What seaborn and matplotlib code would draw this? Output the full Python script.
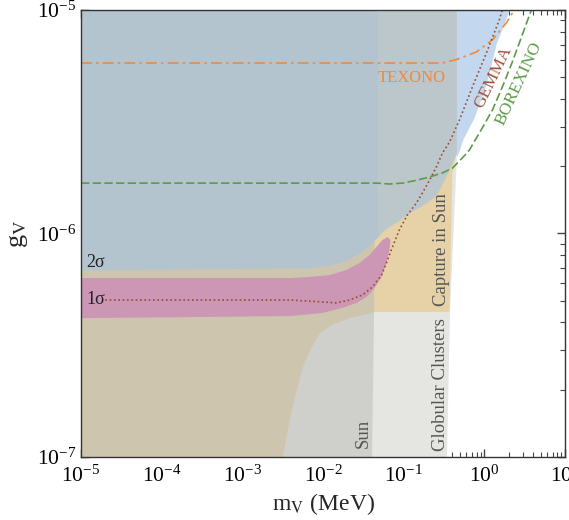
import numpy as np
import matplotlib
matplotlib.use('Agg')
import matplotlib.pyplot as plt
import pandas as pd
import seaborn as sns

# Boundaries (m in MeV, g dimensionless)

# Sun cooling bound: right edge
sun_g = [1e-7, 4.46e-7, 1e-5]
sun_m = [3.99e-2, 4.23e-2, 4.74e-2]

# Globular clusters: right edge
gc_g = [1e-7, 4.46e-7, 2.2e-6, 1e-5]
gc_m = [0.339, 0.369, 0.45, 0.463]

# tan region (outline, right edge follows the Sun curve)
tan_m = [1e-5, 3.16e-3, 3.87e-3, 4.71e-3, 5.75e-3, 7.23e-3, 9.08e-3, 1.28e-2,
         2.13e-2, 4.11e-2, 4.35e-2, 4.35e-2, 1e-5]
tan_g = [1e-7, 1e-7, 1.47e-7, 2.0e-7, 2.58e-7, 3.10e-7, 3.55e-7, 3.90e-7,
         4.18e-7, 4.41e-7, 4.46e-7, 1.0e-6, 1.0e-6]

# Capture in Sun (outline)
cap_m = [4.35e-2, 0.369, 0.402, 0.45, 0.463, 0.2, 4.35e-2]
cap_g = [4.46e-7, 4.46e-7, 1.87e-6, 2.29e-6, 2.6e-6, 2.6e-6, 1.0e-6]

# excluded region on top (lower boundary)
top_m = [1e-5, 3.87e-3, 6.83e-3, 1.21e-2, 1.96e-2, 2.84e-2, 3.78e-2, 4.74e-2,
         5.78e-2, 8.15e-2, 0.118, 0.157, 0.197, 0.255, 0.302, 0.348, 0.402,
         0.450, 0.463]
top_g = [6.87e-7, 7.01e-7, 7.01e-7, 7.23e-7, 7.61e-7, 8.18e-7, 8.89e-7, 9.64e-7,
         1.04e-6, 1.126e-6, 1.236e-6, 1.315e-6, 1.384e-6, 1.487e-6, 1.68e-6,
         1.866e-6, 2.09e-6, 2.29e-6, 2.36e-6]
split = 7  # Sun edge: region to the right is drawn lighter

# GEMMA excluded region (right edge)
gem_reg_g = [2.2e-6, 2.36e-6, 2.62e-6, 3.32e-6, 4.71e-6, 7.12e-6, 1e-5]
gem_reg_m = [0.45, 0.491, 0.535, 0.752, 1.06, 1.41, 2.04]

# 1 sigma band (outline)
s1_m = [1e-5, 3.87e-3, 6.83e-3, 1.21e-2, 1.96e-2, 2.84e-2, 3.78e-2, 4.61e-2,
        5.47e-2, 6.31e-2, 6.87e-2, 6.67e-2, 6.12e-2, 5.31e-2, 4.35e-2, 3.47e-2,
        2.61e-2, 1.75e-2, 9.89e-3, 5.59e-3, 3.87e-3, 1e-5]
s1_g = [6.32e-7, 6.32e-7, 6.39e-7, 6.52e-7, 6.87e-7, 7.38e-7, 8.02e-7, 8.71e-7,
        9.35e-7, 9.64e-7, 9.35e-7, 8.44e-7, 7.38e-7, 6.38e-7, 5.70e-7, 5.20e-7,
        4.89e-7, 4.65e-7, 4.41e-7, 4.32e-7, 4.27e-7, 4.18e-7]

# limit curves
texono_m = [1e-5, 0.302, 0.45, 0.796, 1.26, 1.87, 2.35]
texono_g = [5.79e-6, 5.79e-6, 6.0e-6, 6.49e-6, 7.35e-6, 8.75e-6, 1e-5]

borexino_m = [1e-5, 4.61e-2, 6.67e-2, 9.66e-2, 0.144, 0.209, 0.302, 0.402,
              0.535, 0.652, 0.710, 0.944, 1.26, 1.67, 2.22, 2.95, 3.82]
borexino_g = [1.68e-6, 1.68e-6, 1.665e-6, 1.68e-6, 1.73e-6, 1.79e-6, 1.866e-6,
              1.96e-6, 2.18e-6, 2.36e-6, 2.49e-6, 2.97e-6, 3.57e-6, 4.52e-6,
              5.85e-6, 7.73e-6, 1e-5]

gemma_m = [2e-5, 3.87e-3, 9.89e-3, 1.47e-2, 2.13e-2, 3.09e-2, 4.11e-2, 5.31e-2,
           6.31e-2, 7.26e-2, 8.87e-2, 0.111, 0.144, 0.171, 0.209, 0.255, 0.302,
           0.369, 0.491, 0.710, 1.06, 1.53, 1.67]
gemma_g = [5.04e-7, 5.04e-7, 4.94e-7, 4.89e-7, 5.04e-7, 5.31e-7, 5.77e-7, 6.52e-7,
           7.61e-7, 8.71e-7, 1.04e-6, 1.21e-6, 1.37e-6, 1.52e-6, 1.73e-6, 1.99e-6,
           2.29e-6, 2.56e-6, 3.22e-6, 4.52e-6, 6.42e-6, 9.02e-6, 1e-5]

sns.set_theme(style='ticks')
plt.rcParams['font.family'] = ['Liberation Serif', 'DejaVu Serif']
plt.rcParams['mathtext.fontset'] = 'stix'

fig = plt.figure(figsize=(5.69, 5.2), dpi=100)
ax = fig.add_axes([0.1424, 0.1212, 0.8506, 0.8596])
ax.set_xscale('log')
ax.set_yscale('log')
ax.set_xlim(1e-5, 1e1)
ax.set_ylim(1e-7, 1e-5)

# regions, back to front
ax.fill_betweenx(gc_g, 1e-5, gc_m, color='#e5e6e1', lw=0)
ax.fill_betweenx(sun_g, 1e-5, sun_m, color='#cfd0cb', lw=0)
ax.fill(tan_m, tan_g, color='#cdc5ae', lw=0)
ax.fill(cap_m, cap_g, color='#e6d2a6', lw=0)
ax.fill_between(top_m[:split + 1], top_g[:split + 1], 1e-5, color='#b4c4ce', lw=0)
ax.fill_between(top_m[split:], top_g[split:], 1e-5, color='#bcc7cc', lw=0)
ax.fill_betweenx(gem_reg_g, 0.45, gem_reg_m, color='#c3d7ee', lw=0)
ax.fill(s1_m, s1_g, color='#cc97b4', lw=0)

lines = pd.concat([
    pd.DataFrame({'m': texono_m, 'g': texono_g, 'exp': 'TEXONO'}),
    pd.DataFrame({'m': borexino_m, 'g': borexino_g, 'exp': 'BOREXINO'}),
    pd.DataFrame({'m': gemma_m, 'g': gemma_g, 'exp': 'GEMMA'}),
])
sns.lineplot(data=lines[lines.exp == 'TEXONO'], x='m', y='g', ax=ax, sort=False,
             color='#ee8a3e', lw=1.2, linestyle=(0, (6.5, 2.5, 1.5, 2.5)))
sns.lineplot(data=lines[lines.exp == 'BOREXINO'], x='m', y='g', ax=ax, sort=False,
             color='#5e9a4a', lw=1.2, linestyle=(0, (5, 2)))
sns.lineplot(data=lines[lines.exp == 'GEMMA'], x='m', y='g', ax=ax, sort=False,
             color='#9c4a35', lw=1.2, linestyle=(0, (1, 1.6)))

# labels on the plot
ax.text(0.125, 4.96e-6, 'TEXONO', color='#ee8a3e', fontsize=12, ha='center', va='center')
ax.text(1.28, 5.0e-6, 'GEMMA', color='#a0523a', fontsize=12.5, ha='center', va='center', rotation=64)
ax.text(2.71, 4.71e-6, 'BOREXINO', color='#5e9a4a', fontsize=12.5, ha='center', va='center', rotation=65)
ax.text(0.294, 8.44e-7, 'Capture in Sun', color='#555555', fontsize=13.5, ha='center', va='center', rotation=90)
ax.text(0.289, 2.10e-7, 'Globular Clusters', color='#555555', fontsize=13.5, ha='center', va='center', rotation=90)
ax.text(3.18e-2, 1.28e-7, 'Sun', color='#555555', fontsize=13.5, ha='center', va='center', rotation=90)
ax.text(1.15e-5, 7.45e-7, '2σ', color='#222222', fontsize=13, ha='left', va='center')
ax.text(1.15e-5, 5.04e-7, '1σ', color='#222222', fontsize=13, ha='left', va='center')

ax.set_xlabel(r'm$_{\rm V}$ (MeV)', fontsize=17, labelpad=3)
ax.set_ylabel(r'g$_{\rm V}$', fontsize=19, labelpad=5)
ax.tick_params(which='both', direction='in', top=True, right=True, colors='#444444',
               labelcolor='black', labelsize=15.5)
ax.tick_params(axis='x', which='major', pad=6)
ax.tick_params(which='major', length=6, width=1)
ax.tick_params(which='minor', length=3.5, width=0.8)
for s in ax.spines.values():
    s.set_color('#333333')
    s.set_linewidth(1)

plt.savefig('out.png', dpi=100)
